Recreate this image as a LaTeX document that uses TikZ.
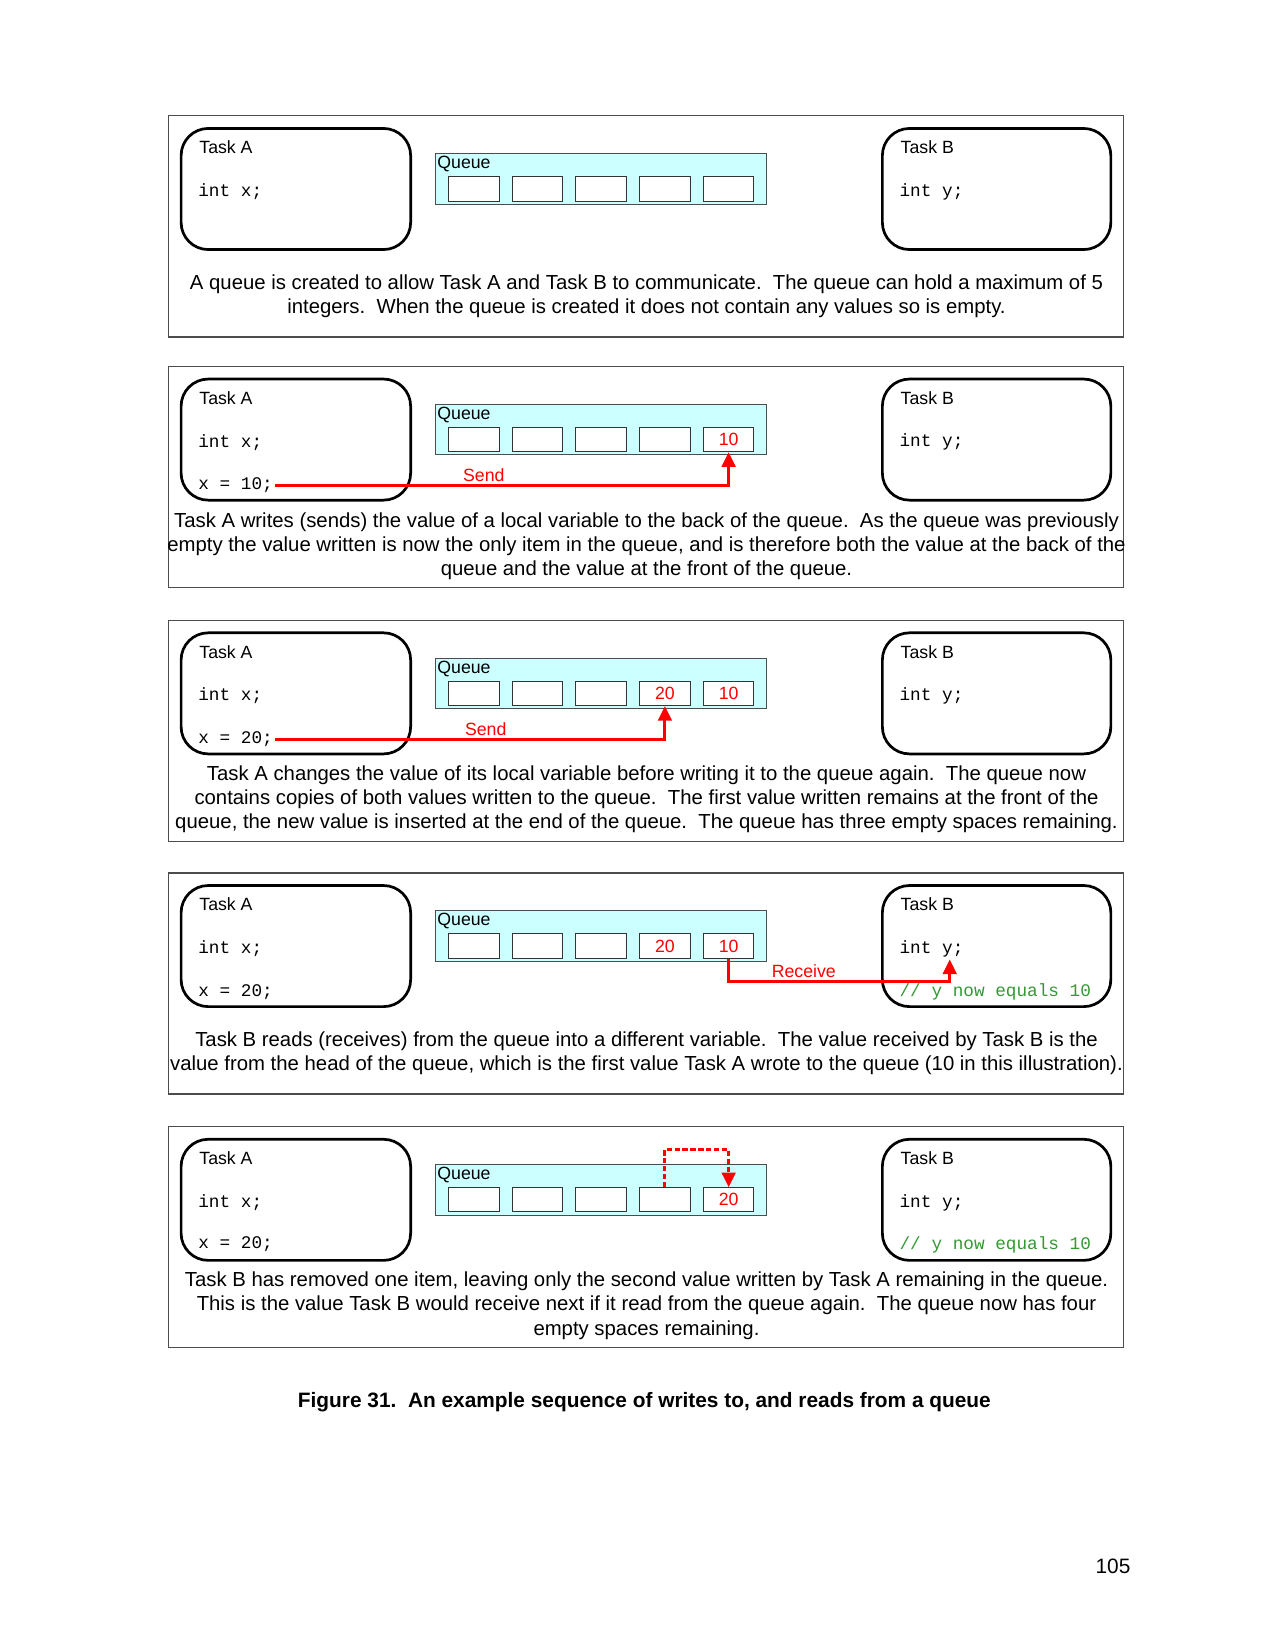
\documentclass[tikz,border=0pt]{standalone}
\usepackage{fontspec}
\setmainfont{Liberation Sans}
\setmonofont{Liberation Mono}
\usetikzlibrary{arrows.meta}
\definecolor{qfill}{RGB}{204,255,255}
\definecolor{sendred}{RGB}{255,0,0}
\definecolor{cmtgreen}{RGB}{51,153,51}

\begin{document}
\begin{tikzpicture}[
            x=0.505pt, y=-0.505pt,
            every node/.style={inner sep=1pt},
            panel/.style={draw=black!70, line width=0.6pt},
            taskbox/.style={draw, line width=1.3pt, rounded corners=13pt},
            queuebox/.style={draw=black!70, fill=qfill, line width=0.5pt},
            cell/.style={draw=black!80, fill=white, line width=0.5pt, minimum width=48*\px, minimum height=23*\px, inner sep=0pt},
            valtext/.style={text=sendred, font=\fontsize{8.5}{10}\selectfont},
            tasklabel/.style={anchor=west, font=\fontsize{8.5}{10}\selectfont},
            codetext/.style={anchor=west, font=\ttfamily\fontsize{8.5}{10}\selectfont},
            cmttext/.style={codetext, text=cmtgreen},
            msg/.style={sendred, line width=1.4pt, -{Triangle[width=6.5pt,length=7pt]}},
            msglabel/.style={text=sendred, font=\fontsize{8.5}{10}\selectfont},
            desc/.style={align=center, font=\fontsize{9.75}{11.6}\selectfont}
        ]
        
        % Constants
        \def\px{0.505pt}   % one unit of the page grid
        \def\cellw{60.5}   % Pitch of the queue cells
        
        \useasboundingbox (0,0) rectangle (1212,1568);
        
        % --- Common parts of every panel ---
        \foreach \p/\yt in {1/110, 2/348, 3/589, 4/829, 5/1070} {
            \draw[panel] (160,\yt) rectangle (1067,\yt+210);
            % Task A
            \draw[taskbox] (172,\yt+12) rectangle (390,\yt+127);
            \node[tasklabel] (ta\p) at (187,\yt+30) {Task A};
            \node[codetext] (ix\p) at (186,\yt+72) {int x;};
            % Task B
            \draw[taskbox] (838,\yt+12) rectangle (1055,\yt+127);
            \node[tasklabel] (tb\p) at (853,\yt+30) {Task B};
            \node[codetext] (iy\p) at (852,\yt+72) {int y;};
            % Queue
            \draw[queuebox] (414,\yt+36) rectangle (728,\yt+84);
            \node[tasklabel, inner sep=0.5pt] (ql\p) at (414,\yt+46) {Queue};
            \foreach \i in {1,...,5}
                \node[cell] (c\p-\i) at ({450+\cellw*(\i-1)}, \yt+69.5) {};
        }
        
        % --- Panel 1: empty queue ---
        \node[desc] (d1) at (614,281) {A queue is created to allow Task A and Task B to communicate.\ \ The queue can hold a maximum of 5\\integers.\ \ When the queue is created it does not contain any values so is empty.};
        
        % --- Panel 2: Task A sends 10 ---
        \node[codetext] (xa2) at (186,461) {x = 10;};
        \node[valtext] (v2) at (c2-5) {10};
        \draw[msg] (xa2.east) -| (c2-5.south) node[pos=0.23, above, msglabel] (s2) {Send};
        \node[desc] (d2) at (614,519) {Task A writes (sends) the value of a local variable to the back of the queue.\ \ As the queue was previously\\empty the value written is now the only item in the queue, and is therefore both the value at the back of the\\queue and the value at the front of the queue.};
        
        % --- Panel 3: Task A sends 20 ---
        \node[codetext] (xa3) at (186,702) {x = 20;};
        \node[valtext] (v3a) at (c3-4) {20};
        \node[valtext] (v3b) at (c3-5) {10};
        \draw[msg] (xa3.east) -| (c3-4.south) node[pos=0.27, above, msglabel] (s3) {Send};
        \node[desc] (d3) at (614,759) {Task A changes the value of its local variable before writing it to the queue again.\ \ The queue now\\contains copies of both values written to the queue.\ \ The first value written remains at the front of the\\queue, the new value is inserted at the end of the queue.\ \ The queue has three empty spaces remaining.};
        
        % --- Panel 4: Task B receives ---
        \node[codetext] (xa4) at (186,942) {x = 20;};
        \node[cmttext] (cm4) at (852,942) {// y now equals 10};
        \node[valtext] (v4a) at (c4-4) {20};
        \node[valtext] (v4b) at (c4-5) {10};
        \coordinate (rcv) at (902,932);
        \draw[msg] (c4-5.south) |- (rcv) node[pos=0.67, above, msglabel] (r4) {Receive} -- (rcv |- iy4.south);
        \node[desc] (d4) at (614,1000) {Task B reads (receives) from the queue into a different variable.\ \ The value received by Task B is the\\value from the head of the queue, which is the first value Task A wrote to the queue (10 in this illustration).};
        
        % --- Panel 5: queue after the read ---
        \node[codetext] (xa5) at (186,1182) {x = 20;};
        \node[cmttext] (cm5) at (852,1182) {// y now equals 10};
        \node[valtext] (v5) at (c5-5) {20};
        \draw[msg, dash pattern=on 2.5pt off 1.3pt] (c5-4.north) -- ++(0,-36) -| (c5-5.north);
        \node[desc] (d5) at (614,1240) {Task B has removed one item, leaving only the second value written by Task A remaining in the queue.\\This is the value Task B would receive next if it read from the queue again.\ \ The queue now has four\\empty spaces remaining.};
        
        % --- Caption and page number ---
        \node[font=\bfseries\fontsize{10}{12}\selectfont] (cap) at (612,1332) {Figure 31.\ \ An example sequence of writes to, and reads from a queue};
        \node[font=\fontsize{10}{12}\selectfont] (pg) at (1057,1488) {105};
        
        \end{tikzpicture}
\end{document}
